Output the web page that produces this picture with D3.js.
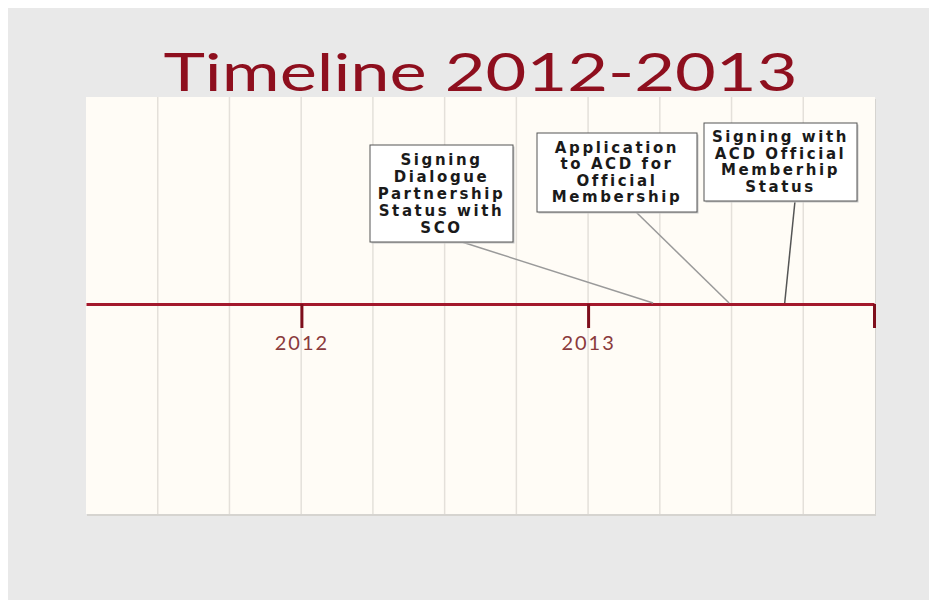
<!DOCTYPE html>
<html lang="en">
  <head>
    <meta charset="utf-8">
    <title>Timeline 2012-2013</title>
    <script src="https://d3js.org/d3.v7.min.js"></script>
    <style>
      body { margin: 0; background: #ffffff; }
    </style>
  </head>
  <body>
    <div id="chart"></div>
    <script type="text/javascript">
      // chart data
      const titleText = "Timeline 2012-2013";
      const tickDates = ["2012-01-01", "2013-01-01", "2014-01-01"];
      const tickLabels = ["2012", "2013", ""];
      const eventDates = ["2013-03-25", "2013-06-30", "2013-09-09"];
      const eventLabels = [
          ["Signing", "Dialogue", "Partnership", "Status with", "SCO"],
          ["Application", "to ACD for", "Official", "Membership"],
          ["Signing with", "ACD Official", "Memberhip", "Status"]
      ];
      const domainDates = ["2011-04-01", "2014-01-01"];

      // callout boxes: layout only (box left/top/size, leader start on box bottom)
      const callouts = [
          {x: 370, y: 145, w: 143, h: 97, lead: 462, line: "#9a9a9a", step: 17},
          {x: 537, y: 133, w: 160, h: 79, lead: 636, line: "#9a9a9a", step: 16.5},
          {x: 704, y: 123, w: 153, h: 78, lead: 795, line: "#555555", step: 16.5}
      ];

      function drawTimeline() {
          let svgWidth = 929,
              svgHeight = 600;

          let plot = { left: 86, right: 875, top: 97, bottom: 514 },
              axisY = 304;

          let parse = d3.timeParse("%Y-%m-%d");

          let svg = d3.select("#chart")
              .append("svg")
              .attr("width", svgWidth)
              .attr("height", svgHeight);

          // grey slide background
          svg.append("rect")
              .attr("x", 8)
              .attr("y", 8)
              .attr("width", svgWidth - 8)
              .attr("height", svgHeight - 8)
              .attr("fill", "#e9e9e9");

          // panel shadow + panel
          svg.append("rect")
              .attr("x", plot.left + 1)
              .attr("y", plot.top + 2)
              .attr("width", plot.right - plot.left)
              .attr("height", plot.bottom - plot.top)
              .attr("fill", "#d6d4d0");

          svg.append("rect")
              .attr("x", plot.left)
              .attr("y", plot.top)
              .attr("width", plot.right - plot.left)
              .attr("height", plot.bottom - plot.top)
              .attr("fill", "#fffcf6");

          // vertical column lines
          let colW = (plot.right - plot.left) / 11;
          svg.append("g")
              .selectAll("line")
              .data(d3.range(1, 11))
              .join("line")
              .attr("x1", i => plot.left + i * colW)
              .attr("x2", i => plot.left + i * colW)
              .attr("y1", plot.top)
              .attr("y2", plot.bottom)
              .attr("stroke", "#e4e0da")
              .attr("stroke-width", 1.5);

          // title
          svg.append("text")
              .attr("x", (plot.left + plot.right) / 2)
              .attr("y", 91)
              .attr("text-anchor", "middle")
              .attr("font-family", "Lato, DejaVu Sans, sans-serif")
              .attr("font-size", 52)
              .attr("textLength", 634)
              .attr("lengthAdjust", "spacingAndGlyphs")
              .attr("fill", "#8e0f1e")
              .text(titleText);

          let x = d3.scaleTime()
              .domain(domainDates.map(parse))
              .range([plot.left, plot.right - 1]);

          // axis
          let axis = d3.axisBottom(x)
              .tickValues(tickDates.map(parse))
              .tickFormat((d, i) => tickLabels[i])
              .tickSize(24)
              .tickSizeOuter(0)
              .tickPadding(8);

          let gAxis = svg.append("g")
              .attr("transform", "translate(0," + axisY + ")")
              .call(axis);

          gAxis.select(".domain")
              .attr("stroke", "#a3182c")
              .attr("stroke-width", 3);

          gAxis.selectAll(".tick line")
              .attr("stroke", "#7e0f1c")
              .attr("stroke-width", 3);

          gAxis.selectAll(".tick text")
              .attr("font-family", "Lato, DejaVu Sans, sans-serif")
              .attr("font-size", 20)
              .attr("letter-spacing", 2)
              .attr("fill", "#8a3a3c");

          // leader lines
          svg.append("g")
              .selectAll("line")
              .data(eventDates)
              .join("line")
              .attr("x1", (d, i) => callouts[i].lead)
              .attr("y1", (d, i) => callouts[i].y + callouts[i].h)
              .attr("x2", d => x(parse(d)))
              .attr("y2", axisY - 1)
              .attr("stroke", (d, i) => callouts[i].line)
              .attr("stroke-width", 1.5);

          // callout boxes
          let boxes = svg.append("g")
              .selectAll("g")
              .data(eventLabels)
              .join("g")
              .attr("transform", (d, i) => "translate(" + callouts[i].x + "," + callouts[i].y + ")");

          boxes.append("rect")
              .attr("x", 1.5)
              .attr("y", 1.5)
              .attr("width", (d, i) => callouts[i].w)
              .attr("height", (d, i) => callouts[i].h)
              .attr("fill", "#c8c8c8");

          boxes.append("rect")
              .attr("width", (d, i) => callouts[i].w)
              .attr("height", (d, i) => callouts[i].h)
              .attr("fill", "#ffffff")
              .attr("stroke", "#555555")
              .attr("stroke-width", 1);

          boxes.each(function(lines, i) {
              let c = callouts[i];
              let top = (c.h - lines.length * c.step) / 2;
              d3.select(this).selectAll("text")
                  .data(lines)
                  .join("text")
                  .attr("x", c.w / 2)
                  .attr("y", (d, j) => top + (j + 0.5) * c.step + 5)
                  .attr("text-anchor", "middle")
                  .attr("font-family", "DejaVu Sans, sans-serif")
                  .attr("font-weight", "bold")
                  .attr("font-size", 15)
                  .attr("letter-spacing", 2.6)
                  .attr("fill", "#1a1a1a")
                  .text(d => d);
          });
      }

      drawTimeline();
    </script>
  </body>
</html>
